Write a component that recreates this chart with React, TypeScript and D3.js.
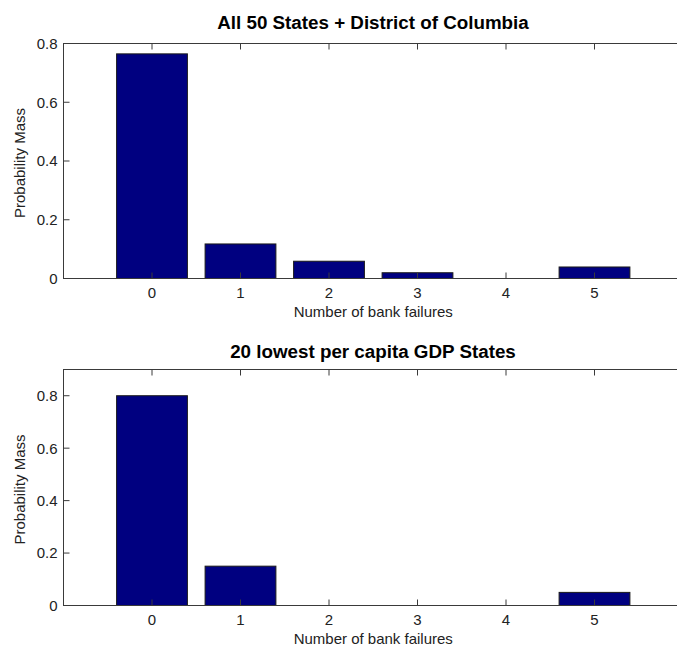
import React from "react";
import * as d3 from "d3";

const categories = [0, 1, 2, 3, 4, 5];
const allStatesValues = [0.7647, 0.1176, 0.0588, 0.0196, 0, 0.0392];
const lowGdpValues = [0.8, 0.15, 0, 0, 0, 0.05];
const yTicks = [0, 0.2, 0.4, 0.6, 0.8];
const xTicks = [0, 1, 2, 3, 4, 5];
const titleTop = "All 50 States + District of Columbia";
const titleBottom = "20 lowest per capita GDP States";
const xLabel = "Number of bank failures";
const yLabel = "Probability Mass";

const W = 677;
const H = 646;
const FONT = "'Liberation Sans', Arial, Helvetica, sans-serif";
const AXIS = "#3a3a3a";
const BAR = "#000080";

const left = 63.5;
const right = 683;

type Panel = {
  title: string;
  values: number[];
  yMax: number;
  top: number;
  bottom: number;
  titleY: number;
};

const panels: Panel[] = [
  { title: titleTop, values: allStatesValues, yMax: 0.8, top: 43.5, bottom: 278.5, titleY: 29 },
  { title: titleBottom, values: lowGdpValues, yMax: 0.9, top: 369.5, bottom: 605.5, titleY: 358 },
];

function Subplot({ p }: { p: Panel }) {
  const x = d3.scaleLinear().domain([-1, 6]).range([left, right]);
  const y = d3.scaleLinear().domain([0, p.yMax]).range([p.bottom, p.top]);
  const bw = (x(1) - x(0)) * 0.8;
  const tl = 6;
  return (
    <g>
      {categories.map((c, i) => {
        const v = p.values[i];
        const y0 = y(0);
        const y1 = y(v);
        return (
          <rect
            key={c}
            x={x(c) - bw / 2}
            y={Math.min(y0, y1)}
            width={bw}
            height={Math.abs(y0 - y1)}
            fill={BAR}
            stroke="#1a1a1a"
            strokeWidth={1}
          />
        );
      })}
      <rect x={left} y={p.top} width={right - left} height={p.bottom - p.top} fill="none" stroke={AXIS} strokeWidth={1} />
      {xTicks.map((t) => (
        <g key={"x" + t}>
          <line x1={x(t)} x2={x(t)} y1={p.bottom} y2={p.bottom - tl} stroke={AXIS} />
          <line x1={x(t)} x2={x(t)} y1={p.top} y2={p.top + tl} stroke={AXIS} />
          <text x={x(t)} y={p.bottom + 19} textAnchor="middle" fontSize={15} fontFamily={FONT} fill="#222">
            {String(t)}
          </text>
        </g>
      ))}
      {yTicks.map((t) => (
        <g key={"y" + t}>
          <line x1={left} x2={left + tl} y1={y(t)} y2={y(t)} stroke={AXIS} />
          <line x1={right} x2={right - tl} y1={y(t)} y2={y(t)} stroke={AXIS} />
          <text x={left - 6} y={y(t)} dy="0.36em" textAnchor="end" fontSize={15} fontFamily={FONT} fill="#222">
            {String(t)}
          </text>
        </g>
      ))}
      <text x={373} y={p.titleY} textAnchor="middle" fontSize={18.8} fontWeight="bold" fontFamily={FONT} fill="#000">
        {p.title}
      </text>
      <text x={x(2.5)} y={p.bottom + 38} textAnchor="middle" fontSize={15} fontFamily={FONT} fill="#222">
        {xLabel}
      </text>
      <text
        transform={`translate(${25},${(p.top + p.bottom) / 2 + 2}) rotate(-90)`}
        textAnchor="middle"
        fontSize={15}
        fontFamily={FONT}
        fill="#222"
      >
        {yLabel}
      </text>
    </g>
  );
}

export default function App() {
  return (
    <svg
      width={W}
      height={H}
      viewBox={`0 0 ${W} ${H}`}
      style={{ position: "absolute", left: 0, top: 0, background: "#fff", display: "block" }}
    >
      <rect width={W} height={H} fill="#fff" />
      {panels.map((p, i) => (
        <Subplot key={i} p={p} />
      ))}
    </svg>
  );
}
